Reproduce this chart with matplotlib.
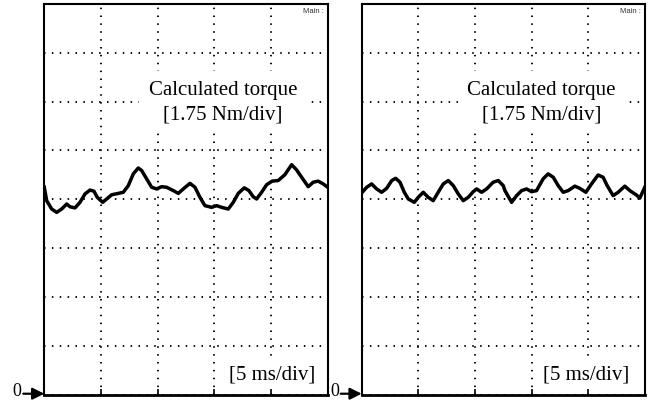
"""Two oscilloscope-style captures of the calculated torque (5 ms/div, 1.75 Nm/div)."""

import matplotlib

matplotlib.use("Agg")
import matplotlib.pyplot as plt
import numpy as np

# --------------------------------------------------------------------------- #
# Data (time in ms, torque in Nm)
# --------------------------------------------------------------------------- #
ms_per_div = 5.0
nm_per_div = 1.75
n_xdiv = 5
n_ydiv = 8

left_t = [0.0, 0.21, 0.65, 1.09, 1.53, 1.98, 2.27, 2.71, 3.15, 3.59, 4.03, 4.38,
          4.67, 5.15, 5.50, 5.94, 6.53, 6.97, 7.41, 7.85, 8.29, 8.59, 9.03, 9.47,
          9.91, 10.35, 10.79, 11.38, 11.82, 12.26, 12.70, 12.85, 13.29, 13.73,
          14.17, 14.76, 15.20, 15.64, 16.23, 16.67, 17.11, 17.64, 18.05, 18.43,
          18.73, 19.17, 19.61, 20.10, 20.63, 21.22, 21.82, 22.26, 22.70, 23.28,
          23.72, 24.16, 24.60, 25.0]
left_torque = [7.43, 6.95, 6.65, 6.53, 6.65, 6.83, 6.73, 6.69, 6.89, 7.19, 7.33,
               7.29, 7.07, 6.89, 7.01, 7.16, 7.21, 7.25, 7.49, 7.91, 8.12, 8.03,
               7.73, 7.43, 7.37, 7.45, 7.43, 7.31, 7.21, 7.37, 7.52, 7.57, 7.43,
               7.07, 6.77, 6.71, 6.77, 6.71, 6.65, 6.89, 7.21, 7.41, 7.31, 7.09,
               7.01, 7.25, 7.52, 7.65, 7.67, 7.88, 8.24, 8.05, 7.79, 7.45, 7.61,
               7.65, 7.55, 7.43]

right_t = [0.05, 0.44, 0.88, 1.32, 1.76, 2.20, 2.65, 3.00, 3.38, 3.76, 4.11, 4.64,
           4.99, 5.43, 5.87, 6.31, 6.75, 7.20, 7.64, 8.08, 8.52, 8.96, 9.40, 9.84,
           10.14, 10.58, 11.02, 11.60, 12.05, 12.49, 12.64, 13.23, 13.67, 14.11,
           14.55, 14.99, 15.43, 16.01, 16.45, 16.90, 17.34, 17.78, 18.22, 18.81,
           19.25, 19.78, 20.28, 20.86, 21.30, 21.66, 22.19, 22.63, 23.22, 23.66,
           24.25, 24.54, 24.98]
right_torque = [7.25, 7.43, 7.55, 7.37, 7.25, 7.39, 7.67, 7.75, 7.61, 7.25, 7.01,
                6.89, 7.07, 7.25, 7.07, 6.95, 7.25, 7.55, 7.67, 7.49, 7.19, 6.95,
                7.07, 7.27, 7.37, 7.25, 7.37, 7.61, 7.67, 7.49, 7.31, 6.89, 7.13,
                7.31, 7.37, 7.27, 7.31, 7.73, 7.91, 7.79, 7.49, 7.25, 7.31, 7.47,
                7.39, 7.25, 7.55, 7.87, 7.79, 7.49, 7.13, 7.25, 7.47, 7.31, 7.15,
                7.04, 7.43]

signal_label = "Calculated torque\n[1.75 Nm/div]"
time_label = "[5 ms/div]"
scope_tag = "Main :"
zero_label = "0"

SERIF = ["Liberation Serif", "DejaVu Serif"]


def draw_capture(ax, t, torque, label_x, time_x):
    """One scope screen: dotted division grid, thick trace, boxed labels."""
    t_max = n_xdiv * ms_per_div
    y_max = n_ydiv * nm_per_div
    ax.set_xlim(0, t_max)
    ax.set_ylim(0, y_max)
    ax.set_xticks(np.arange(0, t_max + 0.01, ms_per_div))
    ax.set_yticks(np.arange(0, y_max + 0.01, nm_per_div))
    ax.tick_params(axis="x", direction="in", length=4, width=1.2,
                   labelbottom=False, top=False)
    ax.tick_params(axis="y", left=False, labelleft=False)
    ax.grid(True, color="black", linestyle=(0, (0.8, 3.4)), linewidth=1.35)
    ax.set_axisbelow(True)
    for side in ("left", "right", "top"):
        ax.spines[side].set_linewidth(1.5)
    ax.spines["bottom"].set_linewidth(2.0)

    ax.plot(t, torque, color="black", linewidth=2.5, solid_joinstyle="round",
            zorder=3)

    box = dict(boxstyle="square,pad=0.45", facecolor="white", edgecolor="none")
    ax.text(label_x, 10.5, signal_label, ha="center", va="center",
            family=SERIF, fontsize=15, linespacing=1.35, bbox=box, zorder=2)
    ax.text(time_x, 0.74, time_label, ha="center", va="center",
            family=SERIF, fontsize=15,
            bbox=dict(boxstyle="square,pad=0.25", facecolor="white",
                      edgecolor="none"), zorder=2)
    ax.text(0.985, 0.992, scope_tag, transform=ax.transAxes, ha="right",
            va="top", family=["Liberation Sans", "DejaVu Sans"], fontsize=5.5,
            color="#333333")

    # zero-level marker left of the screen: arrow, then the "0" beside it
    ax.annotate("", xy=(0, 0.002), xycoords="axes fraction",
                xytext=(-21, 0), textcoords="offset pixels",
                annotation_clip=False,
                arrowprops=dict(arrowstyle="-|>,head_length=0.5,head_width=0.25",
                                mutation_scale=14, color="black", lw=1.6,
                                shrinkA=0, shrinkB=0))
    ax.annotate(zero_label, xy=(0, 0), xycoords="axes fraction",
                xytext=(-27, -5), textcoords="offset pixels",
                ha="center", va="bottom", family=SERIF, fontsize=13,
                annotation_clip=False)


fig = plt.figure(figsize=(6.52, 4.02), dpi=100)
W, H = 652.0, 402.0
ax_left = fig.add_axes([44.3 / W, 6.5 / H, 283.4 / W, 390.5 / H])
ax_right = fig.add_axes([361.7 / W, 6.5 / H, 283.3 / W, 390.5 / H])

draw_capture(ax_left, left_t, left_torque, label_x=15.76, time_x=20.1)
draw_capture(ax_right, right_t, right_torque, label_x=15.87, time_x=19.8)

fig.savefig("out.png", dpi=100)
plt.close(fig)
